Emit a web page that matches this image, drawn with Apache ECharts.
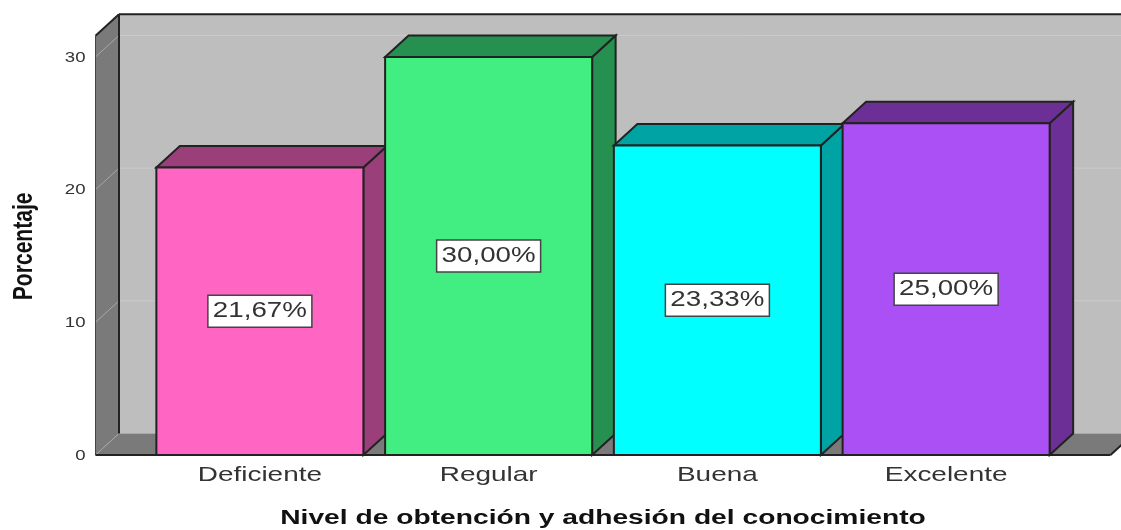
<!DOCTYPE html>
<html>
<head>
<meta charset="utf-8">
<script src="https://cdn.jsdelivr.net/npm/echarts@6/dist/echarts.min.js"></script>
<style>
html, body { margin: 0; padding: 0; background: #fff; }
#chart { width: 1121px; height: 530px; }
</style>
</head>
<body>
<div id="chart"></div>
<script>
const categories = ['Deficiente', 'Regular', 'Buena', 'Excelente']
const porcentajes = [21.67, 30.00, 23.33, 25.00]
const yTicks = [0, 10, 20, 30]
const frontColors = ['#FF66C4', '#42EE82', '#00FFFF', '#AB50F5']
const sideColors = ['#9A3F7A', '#259050', '#00A3A3', '#6C2F96']
const xTitle = 'Nivel de obtención y adhesión del conocimiento'
const yTitle = 'Porcentaje'

// fake 3d: how far the back plane is shifted from the front plane
const depthX = 23.5
const depthY = 21.5
const wallOut = 50 // the floor sticks out of the grid this far on both sides
const edge = { stroke: '#222', lineWidth: 2 }
const wide = 1.33 // the original text is stretched sideways

const poly = (points, fill, style) => ({
  type: 'polygon',
  shape: { points },
  style: Object.assign({ fill }, style)
})
const line = (x1, y1, x2, y2, stroke, lineWidth) => ({
  type: 'line',
  shape: { x1, y1, x2, y2 },
  style: { stroke, lineWidth }
})
const label = (text, x, y, font, fill, align, scaleX) => ({
  type: 'text',
  x,
  y,
  scaleX: scaleX || wide,
  style: { text, fill, font, align: align || 'center', verticalAlign: 'middle' }
})

// back wall, left wall, floor and the texts around them
const renderWalls = (params, api) => {
  const c = params.coordSys
  const y0 = api.coord([0, 0])[1]
  const left = c.x - wallOut
  const right = c.x + c.width + wallOut
  const top = c.y
  const children = [
    poly([[left + depthX, top - depthY], [right + depthX, top - depthY], [right + depthX, y0 - depthY], [left + depthX, y0 - depthY]], '#BEBEBE'),
    poly([[left, top], [left + depthX, top - depthY], [left + depthX, y0 - depthY], [left, y0]], '#7A7A7A'),
    poly([[left, y0], [left + depthX, y0 - depthY], [right + depthX, y0 - depthY], [right, y0]], '#7A7A7A')
  ]
  yTicks.forEach((t) => {
    const y = api.coord([0, t])[1]
    children.push(line(left, y, left + depthX, y - depthY, '#A8A8A8', 1))
    if (t > 0) children.push(line(left + depthX, y - depthY, right + depthX, y - depthY, '#CBCBCB', 1))
    children.push(label(String(t), left - 10, y + 1, '14px "Liberation Sans"', '#333', 'right'))
  })
  children.push(line(left + depthX, y0 - depthY, right + depthX, y0 - depthY, '#A8A8A8', 1))
  children.push(line(left + depthX, top - depthY, right + depthX, top - depthY, '#222', 2))
  children.push(line(left, top, left + depthX, top - depthY, '#222', 2))
  children.push(line(left + depthX, top - depthY, left + depthX, y0 - depthY, '#222', 2))
  children.push(line(left, top, left, y0, '#444', 1))
  children.push(line(right, y0, right + depthX, y0 - depthY, '#222', 2))
  children.push(line(left, y0, right, y0, '#222', 2))
  categories.forEach((name, i) => {
    children.push(label(name, api.coord([i, 0])[0], y0 + 20, '21px "Liberation Sans"', '#333'))
  })
  children.push(label(xTitle, c.x + c.width / 2, y0 + 63, 'bold 20px "Liberation Sans"', '#111', 'center', 1.41))
  // the y title is the other way round: tall and squeezed
  const yName = label(yTitle, 25, (top + y0) / 2 + 1, 'bold 27px "Liberation Sans"', '#111', 'center', 0.78)
  yName.rotation = Math.PI / 2
  children.push(yName)
  return { type: 'group', children }
}

const renderBar = (params, api) => {
  const i = api.value(0)
  const v = api.value(1)
  const band = api.size([1, 0])[0]
  const w = band * 0.905
  const [cx, yTop] = api.coord([i, v])
  const yBase = api.coord([i, 0])[1]
  const yMid = api.coord([i, v / 2])[1]
  const x1 = cx - w / 2
  const x2 = cx + w / 2
  const children = [
    poly([[x2, yBase], [x2 + depthX, yBase - depthY], [x2 + depthX, yTop - depthY], [x2, yTop]], sideColors[i], edge),
    poly([[x1, yTop], [x1 + depthX, yTop - depthY], [x2 + depthX, yTop - depthY], [x2, yTop]], sideColors[i], edge),
    { type: 'rect', shape: { x: x1, y: yTop, width: w, height: yBase - yTop }, style: Object.assign({ fill: frontColors[i] }, edge) },
    { type: 'rect', shape: { x: cx - 52, y: yMid - 16, width: 104, height: 32 }, style: { fill: '#fff', stroke: '#444', lineWidth: 1.5 } },
    label(v.toFixed(2).replace('.', ',') + '%', cx, yMid, '22px "Liberation Sans"', '#333', 'center', 1.26)
  ]
  return { type: 'group', children }
}

const chartinit = echarts.init(document.getElementById('chart'))
const option = {
  animation: false,
  backgroundColor: '#fff',
  grid: { left: 145.5, width: 915, top: 35.7, bottom: 75, outerBoundsMode: 'none' },
  xAxis: {
    type: 'category',
    data: categories,
    axisLine: { show: false },
    axisTick: { show: false },
    axisLabel: { show: false }
  },
  yAxis: {
    type: 'value',
    min: 0,
    max: 31.6,
    interval: 10,
    splitLine: { show: false },
    axisLine: { show: false },
    axisTick: { show: false },
    axisLabel: { show: false }
  },
  series: [
    { name: 'fondo', type: 'custom', data: [[0, 0]], renderItem: renderWalls, silent: true, clip: false, z: 1 },
    {
      name: 'Porcentaje',
      type: 'custom',
      data: categories.map((c, i) => [i, porcentajes[i]]),
      renderItem: renderBar,
      clip: false,
      z: 2
    }
  ]
}
chartinit.setOption(option)
</script>
</body>
</html>
